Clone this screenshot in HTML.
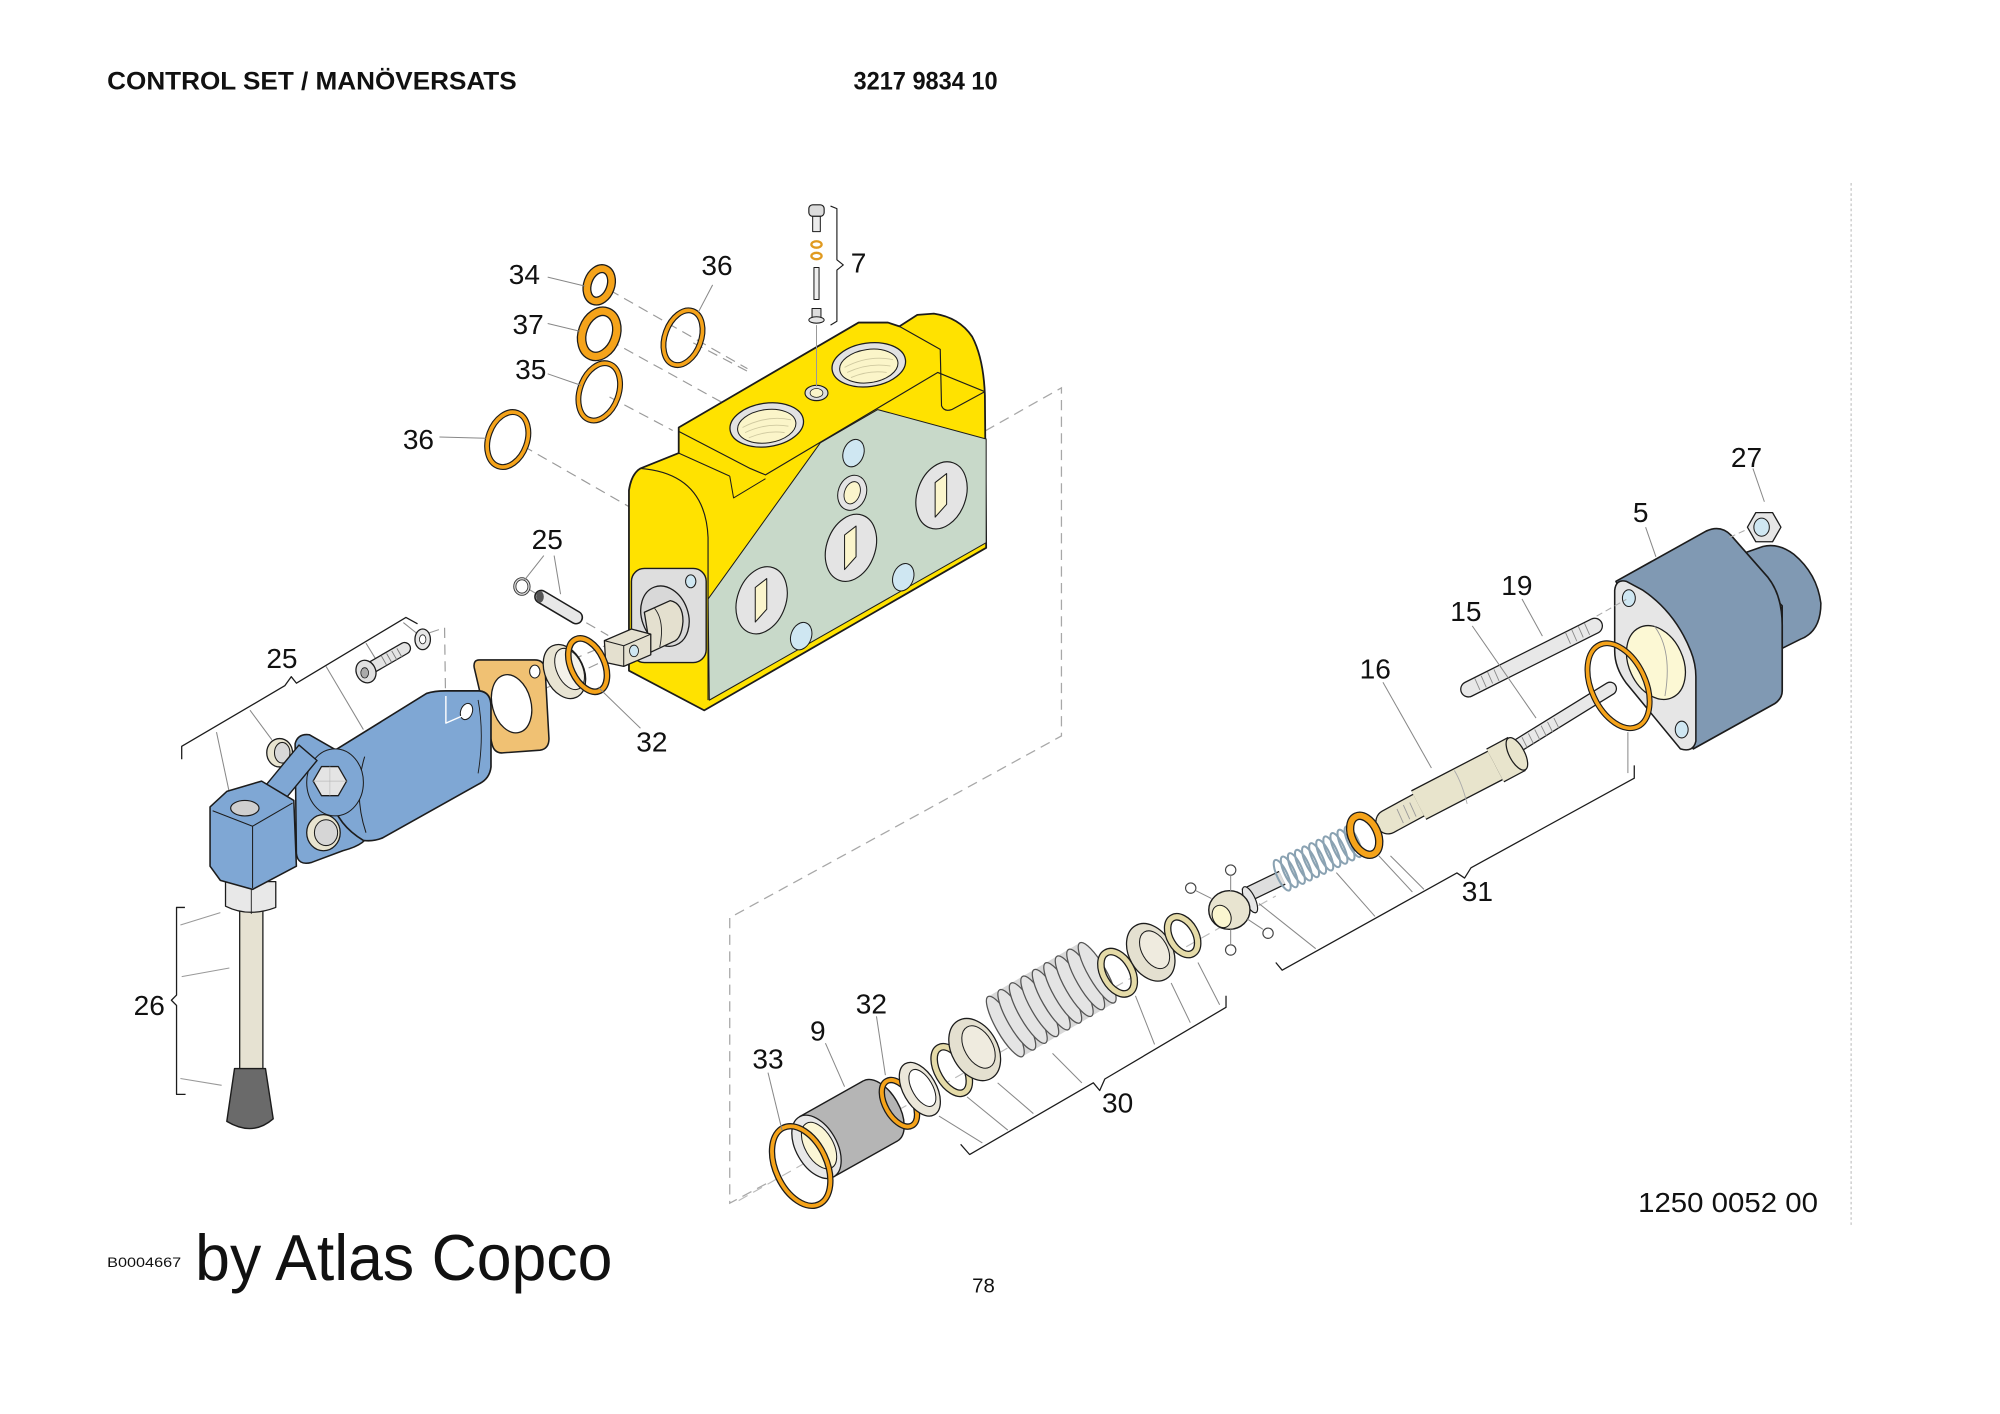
<!DOCTYPE html>
<html><head><meta charset="utf-8"><style>
html,body{margin:0;padding:0;background:#fff;}
svg{display:block;}
text{font-family:"Liberation Sans",Arial,sans-serif;fill:#111;}
</style></head><body>
<svg width="2000" height="1414" viewBox="0 0 1552 1097" preserveAspectRatio="none" xmlns="http://www.w3.org/2000/svg">
<rect width="1552" height="1097" fill="#fff"/>

<!-- ===== GROUP A (main-space) : background items ===== -->
<g transform="scale(0.99 0.993)">
  <text x="84" y="70" font-size="19.5" font-weight="bold" textLength="321" lengthAdjust="spacingAndGlyphs">CONTROL SET / MANÖVERSATS</text>
  <text x="669" y="70" font-size="19.5" font-weight="bold" textLength="113" lengthAdjust="spacingAndGlyphs">3217 9834 10</text>
  <text x="84" y="990" font-size="11" textLength="58" lengthAdjust="spacingAndGlyphs">B0004667</text>
  <text x="153" y="1000" font-size="51" textLength="327" lengthAdjust="spacingAndGlyphs">by Atlas Copco</text>
  <text x="762" y="1010" font-size="16">78</text>
  <text x="1284" y="947" font-size="22" textLength="141" lengthAdjust="spacingAndGlyphs">1250 0052 00</text>
  <line x1="1451" y1="143" x2="1451" y2="958" stroke="#cfcfcf" stroke-width="1.2" stroke-dasharray="2,2"/>
  <polyline points="761,343 832,303 832,575 572,717 572,940 604,923" fill="none" stroke="#a8a8a8" stroke-width="1" stroke-dasharray="8,5"/>
  <line x1="579" y1="938" x2="1000" y2="700" stroke="#bbb" stroke-width="0.9" stroke-dasharray="8,5"/>
</g>

<!-- ===== GROUP B (true) : dashed lines from upper rings ===== -->
<g stroke="#9a9a9a" stroke-width="0.9" stroke-dasharray="8,5" fill="none">
  <line x1="473" y1="225" x2="580" y2="286"/>
  <line x1="538" y1="266" x2="580" y2="288"/>
  <line x1="473" y1="264" x2="560" y2="312"/>
  <line x1="473" y1="308" x2="522" y2="334"/>
  <line x1="406" y1="346" x2="488" y2="393"/>
  <line x1="410" y1="457" x2="472" y2="493"/>
  <line x1="333" y1="491" x2="345" y2="487"/>
  <polyline points="345,487 346,561 364,553"/>
  <line x1="420" y1="522" x2="500" y2="488"/>
  <line x1="398" y1="546" x2="470" y2="512"/>
</g>

<!-- ===== GROUP A : Yellow block ===== -->
<g transform="scale(0.99 0.993)" stroke="#1c1c1c" stroke-linejoin="round">
  <path d="M532,334 L673,252 L696,252 L705,255 L719,246 L732,245 Q752,248 762,263 Q771,280 772,309 L773,428 L552,555 L493,524 L493,383 Q495,370 502,366 L532,354 Z" fill="#ffe200" stroke-width="1.4"/>
  <path d="M555,468 L643,346 L688,320 L773,343 L773,424 L556,547 Z" fill="#c8d9c9" stroke-width="0.8"/>
  <path d="M502,366 Q553,370 555,420 L555,547" fill="none" stroke-width="0.9"/>
  <path d="M532,337 L588,366 L600,371 L735,291 L772,306" fill="none" stroke-width="0.9"/>
  <path d="M572,372 L575,389 L600,374" fill="none" stroke-width="0.8"/>
  <path d="M705,255 L737,273 L738,317 Q740,322 746,320 L772,306" fill="none" stroke-width="0.9"/>
  <path d="M532,354 L572,372" fill="none" stroke-width="0.8"/>
  <ellipse cx="601" cy="332" rx="29" ry="17" transform="rotate(-8 601 332)" fill="#e2e2e2" stroke-width="1"/>
  <ellipse cx="601" cy="333" rx="23" ry="13" transform="rotate(-8 601 333)" fill="#fbf5c9" stroke-width="0.8"/>
  <path d="M582,334 Q601,324 620,328 M584,338 Q601,330 618,333 M587,342 Q601,336 615,338" fill="none" stroke="#cfc9a0" stroke-width="0.7"/>
  <ellipse cx="681" cy="285" rx="29" ry="17" transform="rotate(-8 681 285)" fill="#e2e2e2" stroke-width="1"/>
  <ellipse cx="681" cy="286" rx="23" ry="13" transform="rotate(-8 681 286)" fill="#fbf5c9" stroke-width="0.8"/>
  <path d="M662,287 Q681,277 700,281 M664,291 Q681,283 698,286 M667,295 Q681,289 695,291" fill="none" stroke="#cfc9a0" stroke-width="0.7"/>
  <ellipse cx="640" cy="307" rx="9" ry="6" fill="#ddd" stroke-width="0.9"/>
  <ellipse cx="640" cy="307" rx="5" ry="3.5" fill="#fbf5c9" stroke-width="0.6"/>
  <ellipse cx="669" cy="354" rx="8" ry="11" transform="rotate(20 669 354)" fill="#cfe7f2" stroke-width="0.8"/>
  <ellipse cx="628" cy="497" rx="8" ry="11" transform="rotate(20 628 497)" fill="#cfe7f2" stroke-width="0.8"/>
  <ellipse cx="708" cy="451" rx="8" ry="11" transform="rotate(20 708 451)" fill="#cfe7f2" stroke-width="0.8"/>
  <ellipse cx="668" cy="385" rx="11" ry="14" transform="rotate(20 668 385)" fill="#e4e4e4" stroke-width="0.8"/>
  <ellipse cx="668" cy="385" rx="6" ry="9" transform="rotate(20 668 385)" fill="#fbf5cc" stroke-width="0.7"/>
  <ellipse cx="738" cy="387" rx="19" ry="27" transform="rotate(20 738 387)" fill="#e4e4e4" stroke-width="0.9"/>
  <polygon points="733,377 742,370 742,394 733,404" fill="#fbf5cc" stroke-width="0.8"/>
  <ellipse cx="667" cy="428" rx="19" ry="27" transform="rotate(20 667 428)" fill="#e4e4e4" stroke-width="0.9"/>
  <polygon points="662,418 671,411 671,435 662,445" fill="#fbf5cc" stroke-width="0.8"/>
  <ellipse cx="597" cy="469" rx="19" ry="27" transform="rotate(20 597 469)" fill="#e4e4e4" stroke-width="0.9"/>
  <polygon points="592,459 601,452 601,476 592,486" fill="#fbf5cc" stroke-width="0.8"/>
  <line x1="640" y1="254" x2="640" y2="302" stroke="#999" stroke-width="0.8"/>
  <rect x="634" y="160" width="12" height="9" rx="3" fill="#dcdcdc" stroke-width="0.9"/>
  <rect x="637" y="169" width="6" height="12" fill="#ebebeb" stroke-width="0.8"/>
  <ellipse cx="640" cy="191" rx="4" ry="2.5" fill="none" stroke="#e09a20" stroke-width="1.8"/>
  <ellipse cx="640" cy="200" rx="4" ry="2.5" fill="none" stroke="#e09a20" stroke-width="1.8"/>
  <rect x="638" y="209" width="4" height="25" fill="#eee" stroke-width="0.8"/>
  <rect x="636.5" y="241" width="7" height="8" fill="#ddd" stroke-width="0.8"/>
  <ellipse cx="640" cy="250" rx="6" ry="2.5" fill="#e6e6e6" stroke-width="0.8"/>
  <path d="M651,161 L656,163 L656,203 L661,207 L656,211 L656,251 L651,254" fill="none" stroke-width="0.9"/>
</g>

<!-- ===== GROUP B : shaft, flange, pin, seals, gasket ===== -->
<g stroke="#1c1c1c" stroke-linejoin="round">
  <rect x="490" y="441" width="58" height="73" rx="10" fill="#dedede" stroke-width="1.1"/>
  <ellipse cx="516" cy="478" rx="18" ry="24" transform="rotate(-20 516 478)" fill="#d8d8d8" stroke-width="1"/>
  <ellipse cx="536" cy="451" rx="4" ry="5" fill="#cfe7f2" stroke-width="0.8"/>
  <path d="M500,475 L520,466 Q530,468 530,482 Q529,496 522,498 L505,506 Z" fill="#e4e0cf" stroke-width="1"/>
  <path d="M508,472 Q516,482 512,502" fill="none" stroke-width="0.7"/>
  <polygon points="469,497 490,488 505,492 505,508 484,517 470,514" fill="#e4e0cf" stroke-width="1"/>
  <path d="M469,497 L484,501 L505,492 M484,501 L484,517" fill="none" stroke-width="0.8"/>
  <ellipse cx="492" cy="505" rx="3.5" ry="4.5" fill="#cfe7f2" stroke-width="0.7"/>
  <line x1="420" y1="463" x2="447" y2="479" stroke="#1c1c1c" stroke-width="11" stroke-linecap="round"/>
  <line x1="420" y1="463" x2="447" y2="479" stroke="#e8e8e8" stroke-width="8.6" stroke-linecap="round"/>
  <ellipse cx="419" cy="463" rx="3" ry="4.5" fill="#555" stroke="none"/>
  <ellipse cx="405" cy="455" rx="5.5" ry="6" fill="none" stroke="#333" stroke-width="2.4"/>
  <ellipse cx="405" cy="455" rx="5.5" ry="6" fill="none" stroke="#ddd" stroke-width="1"/>
  <path d="M372,512 Q367,512 368,518 L382,578 Q384,585 391,584 L419,582 Q426,581 426,573 L423,519 Q422,512 415,512 Z" fill="#f0c173" stroke-width="1.2"/>
  <ellipse cx="397" cy="546" rx="15" ry="23" transform="rotate(-15 397 546)" fill="#fff" stroke-width="1"/>
  <ellipse cx="415" cy="521" rx="4" ry="5" fill="#fff" stroke-width="0.8"/>
  <ellipse cx="438" cy="521" rx="15" ry="22" transform="rotate(-25 438 521)" fill="#e8e4d3" stroke-width="1"/>
  <ellipse cx="442" cy="519" rx="10" ry="17" transform="rotate(-25 442 519)" fill="#f4f2ea" stroke-width="0.8"/>
  <ellipse cx="456" cy="516" rx="13" ry="22" transform="rotate(-25 456 516)" fill="none" stroke="#1c1c1c" stroke-width="5.2"/>
  <ellipse cx="456" cy="516" rx="13" ry="22" transform="rotate(-25 456 516)" fill="none" stroke="#f5a31a" stroke-width="3.2"/>
  <g fill="none">
    <ellipse cx="465" cy="221" rx="9" ry="13" transform="rotate(20 465 221)" stroke="#1c1c1c" stroke-width="7"/>
    <ellipse cx="465" cy="221" rx="9" ry="13" transform="rotate(20 465 221)" stroke="#f5a31a" stroke-width="5"/>
    <ellipse cx="465" cy="259" rx="13" ry="18" transform="rotate(20 465 259)" stroke="#1c1c1c" stroke-width="7.5"/>
    <ellipse cx="465" cy="259" rx="13" ry="18" transform="rotate(20 465 259)" stroke="#f5a31a" stroke-width="5.5"/>
    <ellipse cx="530" cy="262" rx="14" ry="22" transform="rotate(20 530 262)" stroke="#1c1c1c" stroke-width="4.6"/>
    <ellipse cx="530" cy="262" rx="14" ry="22" transform="rotate(20 530 262)" stroke="#f5a31a" stroke-width="2.8"/>
    <ellipse cx="465" cy="304" rx="15" ry="23" transform="rotate(20 465 304)" stroke="#1c1c1c" stroke-width="4.6"/>
    <ellipse cx="465" cy="304" rx="15" ry="23" transform="rotate(20 465 304)" stroke="#f5a31a" stroke-width="2.8"/>
    <ellipse cx="394" cy="341" rx="15" ry="22" transform="rotate(20 394 341)" stroke="#1c1c1c" stroke-width="4.6"/>
    <ellipse cx="394" cy="341" rx="15" ry="22" transform="rotate(20 394 341)" stroke="#f5a31a" stroke-width="2.8"/>
  </g>
  <g stroke="#888" stroke-width="0.8" fill="none">
    <line x1="425" y1="215" x2="454" y2="222"/>
    <line x1="425" y1="251" x2="450" y2="257"/>
    <line x1="425" y1="290" x2="451" y2="299"/>
    <line x1="341" y1="339" x2="377" y2="340"/>
    <line x1="553" y1="221" x2="542" y2="242"/>
    <line x1="422" y1="431" x2="407" y2="450"/>
    <line x1="430" y1="431" x2="435" y2="461"/>
    <line x1="464" y1="533" x2="497" y2="565"/>
  </g>
</g>

<!-- ===== GROUP B : blue assembly & handle ===== -->
<g stroke="#1c1c1c" stroke-linejoin="round">
  <path d="M141,589 L141,579 L221,532 L226,525 L230,530 L315,479 L324,484" fill="none" stroke-width="1"/>
  <g stroke="#888" stroke-width="0.8">
    <line x1="168" y1="568" x2="178" y2="615"/>
    <line x1="194" y1="551" x2="211" y2="574"/>
    <line x1="253" y1="517" x2="282" y2="566"/>
    <line x1="284" y1="499" x2="292" y2="512"/>
    <line x1="313" y1="483" x2="323" y2="491"/>
  </g>
  <line x1="288" y1="518" x2="314" y2="503" stroke="#1c1c1c" stroke-width="10" stroke-linecap="round"/>
  <line x1="288" y1="518" x2="314" y2="503" stroke="#e4e4e4" stroke-width="8" stroke-linecap="round"/>
  <path d="M296,509 l4,7 M300,507 l4,7 M304,505 l4,7 M308,503 l4,7" stroke="#777" stroke-width="0.7"/>
  <ellipse cx="284" cy="521" rx="7.5" ry="9" transform="rotate(-25 284 521)" fill="#e0e0e0" stroke-width="1"/>
  <ellipse cx="283" cy="522" rx="3" ry="4" fill="#aaa" stroke-width="0.6"/>
  <ellipse cx="328" cy="496" rx="6" ry="8" fill="#e6e6e6" stroke-width="1"/>
  <ellipse cx="328" cy="496" rx="2.5" ry="3.5" fill="#fff" stroke-width="0.6"/>
  <rect x="186" y="706" width="18" height="128" fill="#e6e2d2" stroke-width="1"/>
  <path d="M182,829 L206,829 L212,868 Q196,882 176,870 Z" fill="#6a6a6a" stroke-width="1.1"/>
  <path d="M175,684 L175,703 Q193,712 214,704 L214,684 Z" fill="#e8e8e8" stroke-width="1"/>
  <line x1="195" y1="690" x2="195" y2="709" stroke-width="0.7"/>
  <path d="M143.5,704 L137,704 L137,772 L133,776 L137,780 L137,849 L144,849" fill="none" stroke-width="1"/>
  <g stroke="#999" stroke-width="0.8">
    <line x1="140" y1="717.6" x2="171" y2="708"/>
    <line x1="141" y1="757.7" x2="178" y2="751"/>
    <line x1="140" y1="836.7" x2="172" y2="842"/>
  </g>
  <ellipse cx="217" cy="584" rx="10" ry="11" fill="#e8e4d0" stroke-width="1"/>
  <ellipse cx="219" cy="584" rx="6" ry="8" fill="#d8d8d8" stroke-width="0.8"/>
  <path d="M229,577 Q231,569 240,570 L261,582 Q284,592 285,605 L287,644 Q286,655 266,660 L242,669 Q231,672 230,662 Z" fill="#7fa7d4" stroke-width="1.2"/>
  <ellipse cx="251" cy="646" rx="13" ry="14" fill="#e8e4d0" stroke-width="1"/>
  <ellipse cx="253" cy="646" rx="9" ry="10" fill="#d6d6d6" stroke-width="0.8"/>
  <path d="M260,582 L331,538 Q337,536 346,536 L372,536 Q381,537 381,548 L381,595 Q380,604 372,608 L297,650 Q290,653 282,652 Q262,640 257,620 Q254,600 260,582 Z" fill="#7fa7d4" stroke-width="1.3"/>
  <path d="M283,587 Q274,616 284,646" fill="none" stroke-width="0.8"/>
  <path d="M371,543 Q376,570 371,600" fill="none" stroke-width="0.7"/>
  <ellipse cx="362" cy="552" rx="4.5" ry="6.5" transform="rotate(20 362 552)" fill="#fff" stroke-width="0.8"/>
  <polyline points="346,540 346,561 362,554" fill="none" stroke="#fff" stroke-width="1.1"/>
  <ellipse cx="260" cy="607" rx="22" ry="26" fill="#7fa7d4" stroke-width="0.8"/>
  <polygon points="269,606 262.5,617.3 249.5,617.3 243,606 249.5,594.7 262.5,594.7" fill="#e4e4e4" stroke-width="1"/>
  <path d="M243,606 L269,606 M256,594.7 L256,617.3" stroke="#bbb" stroke-width="0.5"/>
  <polygon points="204,612 232,578 246,590 218,624" fill="#7fa7d4" stroke-width="1.1"/>
  <polygon points="163,626 176,614 203,606 228,621 230,672 196,690 171,683 163,672" fill="#7fa7d4" stroke-width="1.2"/>
  <path d="M165,629 L196,641 L227,623 M196,641 L196,689" fill="none" stroke-width="0.8"/>
  <ellipse cx="190" cy="627" rx="11" ry="6" fill="#cfcfcf" stroke-width="0.9"/>
</g>

<!-- ===== GROUP B : housing 5 ===== -->
<g stroke="#1c1c1c" stroke-linejoin="round">
  <path d="M1345,432 L1368,424 Q1380,421 1392,430 Q1410,445 1413,468 Q1413,490 1397,496 L1383,503 L1383,470 Z" fill="#8099b3" stroke-width="1.2"/>
  <path d="M1254,451 L1324,412 Q1335,407 1343,415 L1372,448 Q1383,462 1383,485 L1383,536 Q1383,542 1377,546 L1314,581 Z" fill="#8099b3" stroke-width="1.3"/>
  <path d="M1253,458 Q1254,449 1262,451 L1275,458 Q1300,475 1312,505 Q1316,515 1316,525 L1316,575 Q1314,584 1304,581 L1262,530 Q1253,518 1253,505 Z" fill="#e6e6e6" stroke-width="1.2"/>
  <ellipse cx="1285" cy="514" rx="21" ry="30" transform="rotate(-25 1285 514)" fill="#fcf8d4" stroke-width="1"/>
  <path d="M1284,486 Q1298,505 1292,540" fill="none" stroke="#999" stroke-width="0.7"/>
  <ellipse cx="1264" cy="464" rx="5" ry="6.5" fill="#cfe7f2" stroke-width="0.8"/>
  <ellipse cx="1305" cy="566" rx="5" ry="6.5" fill="#cfe7f2" stroke-width="0.8"/>
  <polygon points="1382,409 1375.5,420.3 1362.5,420.3 1356,409 1362.5,397.7 1375.5,397.7" fill="#e6e6e6" stroke-width="1"/>
  <ellipse cx="1367" cy="409" rx="6" ry="7" fill="#cfe7f2" stroke-width="0.8"/>
  <line x1="1342" y1="417" x2="1355" y2="411" stroke="#aaa" stroke-width="0.8" stroke-dasharray="5,3"/>
  <line x1="1239" y1="478" x2="1262" y2="465" stroke="#aaa" stroke-width="0.8" stroke-dasharray="5,3"/>
  <line x1="1277" y1="409" x2="1285" y2="432" stroke="#888" stroke-width="0.8"/>
</g>

<!-- ===== GROUP A : studs, pilot 16, ring stack, brackets ===== -->
<g transform="scale(0.99 0.993)" stroke="#1c1c1c" stroke-linejoin="round">
  <line x1="1151" y1="538.5" x2="1250" y2="489" stroke="#1c1c1c" stroke-width="13" stroke-linecap="round"/>
  <line x1="1151" y1="538.5" x2="1250" y2="489" stroke="#e8e8e8" stroke-width="11" stroke-linecap="round"/>
  <path d="M1156,530 l4,9 M1161,528 l4,9 M1166,525 l4,9 M1171,523 l4,9 M1227,494 l4,9 M1232,492 l4,9 M1237,489 l4,9 M1242,487 l4,9" stroke="#888" stroke-width="0.7"/>
  <line x1="1189" y1="583" x2="1262" y2="538" stroke="#1c1c1c" stroke-width="11" stroke-linecap="round"/>
  <line x1="1189" y1="583" x2="1262" y2="538" stroke="#e8e8e8" stroke-width="9" stroke-linecap="round"/>
  <path d="M1193,576 l4,8 M1198,573 l4,8 M1203,570 l4,8 M1208,567 l4,8 M1213,564 l4,8 M1218,561 l4,8" stroke="#888" stroke-width="0.7"/>
  <line x1="1088" y1="642" x2="1112" y2="629" stroke="#1c1c1c" stroke-width="20" stroke-linecap="round"/>
  <line x1="1088" y1="642" x2="1112" y2="629" stroke="#e8e4cc" stroke-width="18" stroke-linecap="round"/>
  <path d="M1095,632 l5,11 M1100,629 l5,11 M1105,627 l5,11" stroke="#999" stroke-width="0.7"/>
  <line x1="1112" y1="629" x2="1172" y2="598" stroke="#1c1c1c" stroke-width="26"/>
  <line x1="1112" y1="629" x2="1172" y2="598" stroke="#e8e4cc" stroke-width="24"/>
  <line x1="1172" y1="598" x2="1189" y2="589" stroke="#1c1c1c" stroke-width="30"/>
  <line x1="1172" y1="598" x2="1189" y2="589" stroke="#e8e4cc" stroke-width="28"/>
  <ellipse cx="1189" cy="589" rx="6" ry="14" transform="rotate(-28 1189 589)" fill="#e8e4cc" stroke-width="1"/>
  <path d="M1140,602 Q1146,612 1150,628" fill="none" stroke="#aaa" stroke-width="0.7"/>
  <path d="M1281,598 L1281,608 L1153,678 L1148,686 L1142,682 L1005,758 L1000,752" fill="none" stroke-width="1"/>
  <line x1="1276" y1="572" x2="1276" y2="604" stroke="#888" stroke-width="0.8"/>
  <g stroke="#888" stroke-width="0.8">
    <line x1="1084" y1="533" x2="1122" y2="600"/>
    <line x1="1154" y1="489" x2="1204" y2="561"/>
    <line x1="1193" y1="468" x2="1209" y2="497"/>
    <line x1="1374" y1="366" x2="1383" y2="392"/>
  </g>
  <ellipse cx="690" cy="868" rx="15" ry="27" transform="rotate(-30 690 868)" fill="#b5b5b5" stroke-width="1.1"/>
  <polygon points="626.5,872.6 676.5,844.6 703.5,891.4 653.5,919.4" fill="#b5b5b5" stroke="none"/>
  <line x1="626.5" y1="872.6" x2="676.5" y2="844.6" stroke-width="1.1"/>
  <line x1="653.5" y1="919.4" x2="703.5" y2="891.4" stroke-width="1.1"/>
  <ellipse cx="640" cy="896" rx="16" ry="27" transform="rotate(-30 640 896)" fill="#e8e8e8" stroke-width="1"/>
  <ellipse cx="642" cy="895" rx="11" ry="20" transform="rotate(-30 642 895)" fill="#fbf6d5" stroke-width="0.8"/>
  <ellipse cx="628" cy="911" rx="20" ry="33" transform="rotate(-25 628 911)" fill="none" stroke="#1c1c1c" stroke-width="5"/>
  <ellipse cx="628" cy="911" rx="20" ry="33" transform="rotate(-25 628 911)" fill="none" stroke="#f5a31a" stroke-width="3"/>
  <ellipse cx="705" cy="862" rx="11" ry="20" transform="rotate(-30 705 862)" fill="none" stroke="#1c1c1c" stroke-width="5"/>
  <ellipse cx="705" cy="862" rx="11" ry="20" transform="rotate(-30 705 862)" fill="none" stroke="#f5a31a" stroke-width="3"/>
  <ellipse cx="721" cy="851" rx="13" ry="23" transform="rotate(-30 721 851)" fill="#ebe7da" stroke-width="1"/>
  <ellipse cx="723" cy="850" rx="8" ry="16" transform="rotate(-30 723 850)" fill="#fff" stroke-width="0.8"/>
  <ellipse cx="746" cy="836" rx="11" ry="20" transform="rotate(-30 746 836)" fill="none" stroke="#1c1c1c" stroke-width="6"/>
  <ellipse cx="746" cy="836" rx="11" ry="20" transform="rotate(-30 746 836)" fill="none" stroke="#e5dba8" stroke-width="4"/>
  <ellipse cx="764" cy="820" rx="18" ry="26" transform="rotate(-30 764 820)" fill="#e4e0d0" stroke-width="1"/>
  <ellipse cx="767" cy="818" rx="11" ry="18" transform="rotate(-30 767 818)" fill="#efebdf" stroke-width="0.8"/>
  <polygon points="774.5,778.6 846.5,736.6 873.5,783.4 801.5,825.4" fill="#d8d8d8" stroke="none"/>
  <g fill="#e4e4e4" stroke="#555" stroke-width="1">
    <ellipse cx="788" cy="802" rx="7" ry="27" transform="rotate(-30 788 802)"/>
    <ellipse cx="797" cy="796.75" rx="7" ry="27" transform="rotate(-30 797 796.75)"/>
    <ellipse cx="806" cy="791.5" rx="7" ry="27" transform="rotate(-30 806 791.5)"/>
    <ellipse cx="815" cy="786.25" rx="7" ry="27" transform="rotate(-30 815 786.25)"/>
    <ellipse cx="824" cy="781" rx="7" ry="27" transform="rotate(-30 824 781)"/>
    <ellipse cx="833" cy="775.75" rx="7" ry="27" transform="rotate(-30 833 775.75)"/>
    <ellipse cx="842" cy="770.5" rx="7" ry="27" transform="rotate(-30 842 770.5)"/>
    <ellipse cx="851" cy="765.25" rx="7" ry="27" transform="rotate(-30 851 765.25)"/>
    <ellipse cx="860" cy="760" rx="7" ry="27" transform="rotate(-30 860 760)"/>
  </g>
  <ellipse cx="876" cy="760" rx="11" ry="18" transform="rotate(-30 876 760)" fill="none" stroke="#1c1c1c" stroke-width="6"/>
  <ellipse cx="876" cy="760" rx="11" ry="18" transform="rotate(-30 876 760)" fill="none" stroke="#e5dba8" stroke-width="4"/>
  <ellipse cx="902" cy="744" rx="17" ry="24" transform="rotate(-30 902 744)" fill="#e4e0d0" stroke-width="1"/>
  <ellipse cx="905" cy="742" rx="10" ry="16" transform="rotate(-30 905 742)" fill="#efebdf" stroke-width="0.8"/>
  <ellipse cx="927" cy="731" rx="10" ry="16" transform="rotate(-30 927 731)" fill="none" stroke="#1c1c1c" stroke-width="6"/>
  <ellipse cx="927" cy="731" rx="10" ry="16" transform="rotate(-30 927 731)" fill="none" stroke="#e5dba8" stroke-width="4"/>
  <path d="M753,894 L760,902 L857,846 L862,852 L866,843 L961,787 L961,778" fill="none" stroke-width="1"/>
  <g stroke="#888" stroke-width="0.8">
    <line x1="736" y1="872" x2="770" y2="893"/>
    <line x1="758" y1="857" x2="790" y2="883"/>
    <line x1="782" y1="846" x2="810" y2="870"/>
    <line x1="825" y1="823" x2="848" y2="846"/>
    <line x1="890" y1="778" x2="905" y2="816"/>
    <line x1="918" y1="768" x2="933" y2="799"/>
    <line x1="939" y1="752" x2="956" y2="785"/>
    <line x1="602" y1="838" x2="613" y2="883"/>
    <line x1="647" y1="815" x2="662" y2="849"/>
    <line x1="687" y1="794" x2="694" y2="840"/>
  </g>
</g>

<!-- ===== GROUP B : large ring 31, spring 31, ball ===== -->
<g stroke="#1c1c1c" stroke-linejoin="round">
  <ellipse cx="1256" cy="532" rx="21" ry="35" transform="rotate(-25 1256 532)" fill="none" stroke="#1c1c1c" stroke-width="4.6"/>
  <ellipse cx="1256" cy="532" rx="21" ry="35" transform="rotate(-25 1256 532)" fill="none" stroke="#f5a31a" stroke-width="2.8"/>
  <line x1="966" y1="695" x2="995" y2="681" stroke="#1c1c1c" stroke-width="12"/>
  <line x1="966" y1="695" x2="995" y2="681" stroke="#dedede" stroke-width="10"/>
  <g fill="none" stroke="#8aa2b2" stroke-width="1.6">
    <ellipse cx="995" cy="679" rx="4" ry="13" transform="rotate(-25 995 679)"/>
    <ellipse cx="1000.5" cy="676.4" rx="4" ry="13" transform="rotate(-25 1000.5 676.4)"/>
    <ellipse cx="1006" cy="673.8" rx="4" ry="13" transform="rotate(-25 1006 673.8)"/>
    <ellipse cx="1011.5" cy="671.2" rx="4" ry="13" transform="rotate(-25 1011.5 671.2)"/>
    <ellipse cx="1017" cy="668.6" rx="4" ry="13" transform="rotate(-25 1017 668.6)"/>
    <ellipse cx="1022.5" cy="666" rx="4" ry="13" transform="rotate(-25 1022.5 666)"/>
    <ellipse cx="1028" cy="663.4" rx="4" ry="13" transform="rotate(-25 1028 663.4)"/>
    <ellipse cx="1033.5" cy="660.8" rx="4" ry="13" transform="rotate(-25 1033.5 660.8)"/>
    <ellipse cx="1039" cy="658.2" rx="4" ry="13" transform="rotate(-25 1039 658.2)"/>
    <ellipse cx="1044.5" cy="655.6" rx="4" ry="13" transform="rotate(-25 1044.5 655.6)"/>
    <ellipse cx="1050" cy="653" rx="4" ry="13" transform="rotate(-25 1050 653)"/>
  </g>
  <ellipse cx="1059" cy="648" rx="10" ry="16" transform="rotate(-25 1059 648)" fill="none" stroke="#1c1c1c" stroke-width="6.5"/>
  <ellipse cx="1059" cy="648" rx="10" ry="16" transform="rotate(-25 1059 648)" fill="none" stroke="#f5a31a" stroke-width="4.5"/>
  <ellipse cx="970" cy="698" rx="4" ry="11" transform="rotate(-25 970 698)" fill="#e6e6e6" stroke-width="0.9"/>
  <ellipse cx="954" cy="706" rx="16" ry="15" fill="#e8e4d0" stroke-width="1.1"/>
  <ellipse cx="948" cy="711" rx="7" ry="9" transform="rotate(-25 948 711)" fill="#fbf6d0" stroke-width="0.8"/>
  <g fill="#fff" stroke="#444" stroke-width="0.9">
    <circle cx="924" cy="689" r="4"/>
    <circle cx="955" cy="675" r="4"/>
    <circle cx="984" cy="724" r="4"/>
    <circle cx="955" cy="737" r="4"/>
  </g>
  <g stroke="#888" stroke-width="0.8">
    <line x1="928" y1="691" x2="940" y2="697"/>
    <line x1="955" y1="679" x2="955" y2="692"/>
    <line x1="980" y1="721" x2="968" y2="713"/>
    <line x1="955" y1="733" x2="955" y2="721"/>
    <line x1="977" y1="701" x2="1021" y2="736"/>
    <line x1="1037" y1="677" x2="1067" y2="711"/>
    <line x1="1070" y1="664" x2="1096" y2="692"/>
    <line x1="1079" y1="664" x2="1105" y2="690"/>
  </g>
</g>

<!-- ===== GROUP A : labels ===== -->
<g transform="scale(0.99 0.993)" font-size="22" text-anchor="middle">
  <text x="411" y="222">34</text>
  <text x="414" y="261">37</text>
  <text x="416" y="296">35</text>
  <text x="328" y="351">36</text>
  <text x="562" y="215">36</text>
  <text x="673" y="213">7</text>
  <text x="429" y="429">25</text>
  <text x="221" y="522">25</text>
  <text x="511" y="587">32</text>
  <text x="117" y="793">26</text>
  <text x="1369" y="365">27</text>
  <text x="1286" y="408">5</text>
  <text x="1189" y="465">19</text>
  <text x="1149" y="485">15</text>
  <text x="1078" y="530">16</text>
  <text x="1158" y="704">31</text>
  <text x="683" y="792">32</text>
  <text x="641" y="813">9</text>
  <text x="602" y="835">33</text>
  <text x="876" y="869">30</text>
</g>
</svg>
</body></html>
